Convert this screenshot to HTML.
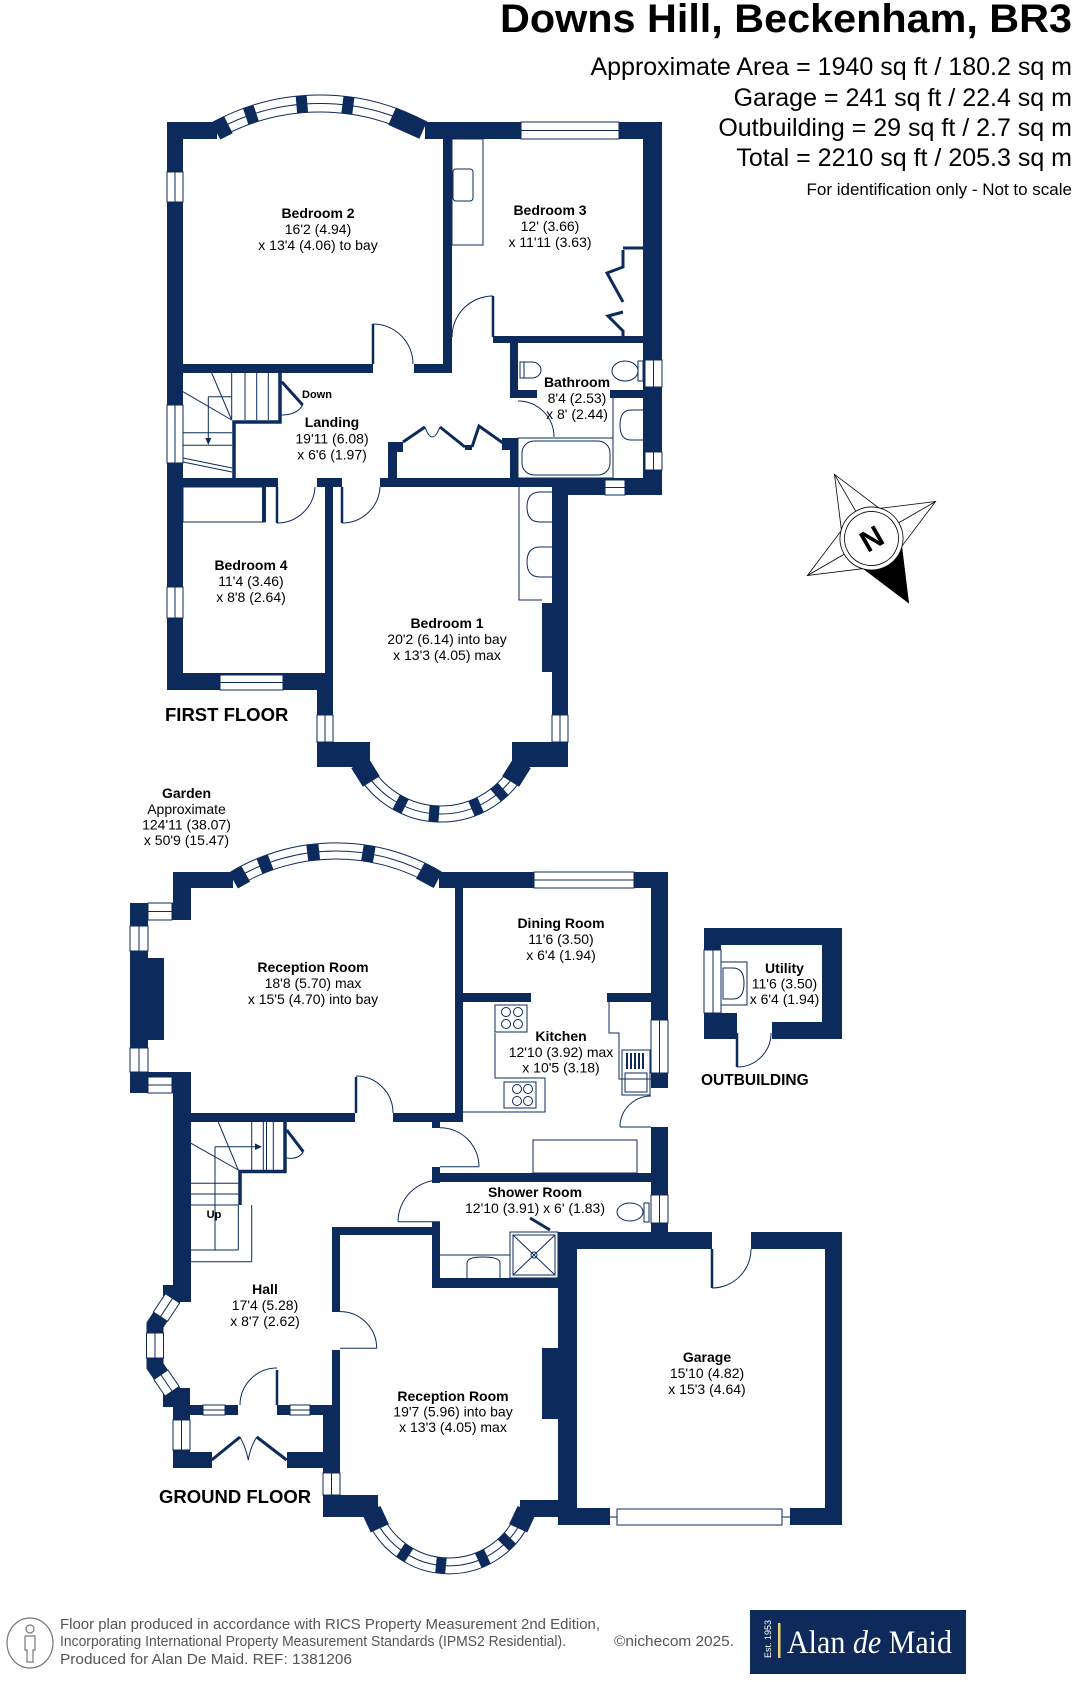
<!DOCTYPE html>
<html><head><meta charset="utf-8">
<style>
html,body{margin:0;padding:0;background:#fff;}
svg{display:block;}
.n{fill:#0c2b5c}
.w{fill:#fff;stroke:#0c2b5c;stroke-width:1}
.l{stroke:#0c2b5c;stroke-width:1;fill:none}
.k{stroke:#0c2b5c;stroke-width:3;fill:none}
text{font-family:"Liberation Sans",Arial,sans-serif;fill:#000}
.b{font-weight:bold;font-size:14px;text-anchor:middle}
.d{font-size:14px;text-anchor:middle}
.f{font-weight:bold;font-size:18.5px}
</style></head><body>
<svg width="1082" height="1681" viewBox="0 0 1082 1681" xmlns="http://www.w3.org/2000/svg">
<rect width="1082" height="1681" fill="#fff"/>

<!-- HEADER -->
<text x="1072" y="32" font-size="40" font-weight="bold" text-anchor="end" textLength="572" lengthAdjust="spacingAndGlyphs">Downs Hill, Beckenham, BR3</text>
<text x="1072" y="75" font-size="25" text-anchor="end">Approximate Area = 1940 sq ft / 180.2 sq m</text>
<text x="1072" y="106" font-size="25" text-anchor="end">Garage = 241 sq ft / 22.4 sq m</text>
<text x="1072" y="136" font-size="25" text-anchor="end">Outbuilding = 29 sq ft / 2.7 sq m</text>
<text x="1072" y="166" font-size="25" text-anchor="end">Total = 2210 sq ft / 205.3 sq m</text>
<text x="1072" y="195" font-size="17" text-anchor="end">For identification only - Not to scale</text>

<!-- ================= FIRST FLOOR ================= -->
<!-- Bay Bed2 -->
<path class="l" d="M213,122.1 A225,225 0 0 1 427,122.1 M217,129.6 A216.5,216.5 0 0 1 423,129.6 M221.1,137 A208,208 0 0 1 418.9,137"/>
<g class="n">
<rect x="314.5" y="95" width="11" height="17" transform="rotate(-18.6 320 320)"/>
<rect x="314.5" y="95" width="11" height="17" transform="rotate(-4.8 320 320)"/>
<rect x="314.5" y="95" width="11" height="17" transform="rotate(7.4 320 320)"/>
<rect x="313" y="95" width="14" height="19" transform="rotate(-27 320 320)"/>
<rect x="303" y="95" width="34" height="19" transform="rotate(24 320 320)"/>

<rect x="167" y="122" width="50" height="17"/>
<rect x="425" y="122" width="237" height="17"/>
<rect x="643" y="122" width="19" height="373"/>
<rect x="167" y="122" width="16" height="568"/>
<rect x="443" y="139" width="9" height="234"/>
<rect x="183" y="364" width="190" height="9"/>
<rect x="414" y="364" width="38" height="9"/>
<rect x="493" y="336" width="150" height="7"/>
<rect x="510" y="336" width="8" height="62"/>
<rect x="510" y="390" width="27" height="8"/>
<rect x="610" y="390" width="33" height="8"/>
<rect x="388" y="442" width="15" height="10"/>
<rect x="388" y="442" width="9" height="36"/>
<rect x="502" y="438" width="16" height="12"/>
<rect x="510" y="438" width="8" height="40"/>
<rect x="465" y="445" width="7" height="5"/>
<rect x="167" y="478" width="111" height="9"/>
<rect x="317" y="478" width="25" height="9"/>
<rect x="380" y="478" width="282" height="9"/>
<rect x="552" y="478" width="110" height="17"/>
<rect x="325" y="478" width="8" height="195"/>
<rect x="167" y="673" width="166" height="17"/>
<rect x="317" y="673" width="16" height="94"/>
<rect x="317" y="742" width="53" height="25"/>
<rect x="552" y="487" width="16" height="280"/>
<rect x="542" y="603" width="10" height="69"/>
<rect x="512" y="742" width="56" height="25"/>
<rect x="262" y="487" width="4" height="35"/>
</g>

<!-- Bay Bed1 -->
<path class="l" d="M353.6,767.1 A97,97 0 0 0 528.4,767.1 M360.8,763.6 A89,89 0 0 0 521.2,763.6 M368,760.1 A81,81 0 0 0 514,760.1"/>
<g class="n">
<rect x="436" y="806" width="10" height="16" transform="rotate(27 441 725)"/>
<rect x="436" y="806" width="10" height="16" transform="rotate(4.5 441 725)"/>
<rect x="436" y="806" width="10" height="16" transform="rotate(-23.2 441 725)"/>
<rect x="436" y="806" width="10" height="16" transform="rotate(-41 441 725)"/>
<rect x="430" y="804" width="22" height="20" transform="rotate(58 441 725)"/>
<rect x="430" y="804" width="22" height="20" transform="rotate(-58 441 725)"/>
</g>

<!-- First floor windows -->
<rect class="w" x="167" y="172" width="16" height="30"/><path class="l" d="M175,172V202"/>
<rect class="w" x="167" y="405" width="16" height="58"/><path class="l" d="M175,405V463"/>
<rect class="w" x="167" y="587" width="16" height="31"/><path class="l" d="M175,587V618"/>
<rect class="w" x="521" y="122" width="98" height="17"/><path class="l" d="M521,130.5H619"/>
<rect class="w" x="645" y="360" width="17" height="27"/><path class="l" d="M653.5,360V387"/>
<rect class="w" x="645" y="452" width="17" height="18"/><path class="l" d="M653.5,452V470"/>
<rect class="w" x="605" y="480" width="20" height="15"/><path class="l" d="M605,487.5H625"/>
<rect class="w" x="220" y="675" width="63" height="15"/><path class="l" d="M220,682.5H283"/>
<rect class="w" x="317" y="715" width="16" height="27"/><path class="l" d="M325,715V742"/>
<rect class="w" x="552" y="715" width="16" height="27"/><path class="l" d="M560,715V742"/>

<!-- First floor stairs -->
<path d="M280,373V422H234V478" stroke="#0c2b5c" stroke-width="3.5" fill="none"/>
<path class="l" d="M231.7,373V420M245,373V420M256.7,373V420M268.3,373V420M211.7,373L231.7,420M183,391.7L231.7,420M208.3,396.7H231.7M208.3,396.7V443M183,432.7H232M183,445.3H232M183,458L232,468M183,462L232,472"/>
<path d="M205.3,438L208.3,445L211.3,438Z" fill="#0c2b5c"/>
<path d="M281.7,381.7L302.7,405" class="k"/>
<path class="l" d="M281.7,415Q297,415 302.7,405"/>

<!-- First floor doors -->
<path d="M373,364V324M493,337V296M277,487V523M342,487V523" stroke="#0c2b5c" stroke-width="2.5" fill="none"/>
<path class="l" d="M373,324A40,40 0 0 1 413,364M452,337A41,41 0 0 1 493,296M518,401A36,36 0 0 1 554,437M277,523A38,38 0 0 0 315,487M342,523A38,38 0 0 0 380,487"/>

<!-- cupboard doors -->
<path class="k" d="M403,442L425,427M440,427L465,447M472,447L479,426L503,443" stroke-width="2.5"/>
<path class="l" d="M425,427Q432,447 440,427"/>

<!-- Bed3 fixtures -->
<rect class="l" x="452" y="139" width="31" height="106"/>
<rect class="l" x="453" y="169" width="20" height="32" rx="3"/>
<path class="k" d="M623,248H643M623,250V267L607,273L623,302M623,312L608,316L623,331V336"/>
<!-- Bathroom -->
<path class="l" d="M520,362H532A9,8 0 0 1 532,378H520ZM524,362V378"/>
<ellipse class="l" cx="625" cy="371" rx="13" ry="10"/>
<rect class="l" x="638" y="361" width="5" height="20"/>
<rect class="l" x="518" y="438" width="95" height="40"/>
<rect class="l" x="522" y="441" width="88" height="34" rx="12"/>
<path class="l" d="M613,398V478M643,410H631Q620,410 620,425Q620,440 631,440H643"/>
<!-- Bed1 vanity -->
<path class="l" d="M519,487V600H542"/>
<path class="l" d="M552,492H540Q527,492 527,507Q527,522 540,522H552M552,547H540Q527,547 527,562Q527,577 540,577H552"/>
<!-- Bed4 closet -->
<rect class="l" x="183" y="487" width="82" height="35" stroke-width="1.5"/>

<!-- First floor labels -->
<text class="b" x="318" y="218">Bedroom 2</text>
<text class="d" x="318" y="234">16'2 (4.94)</text>
<text class="d" x="318" y="250">x 13'4 (4.06) to bay</text>
<text class="b" x="550" y="215">Bedroom 3</text>
<text class="d" x="550" y="231">12' (3.66)</text>
<text class="d" x="550" y="247">x 11'11 (3.63)</text>
<text class="b" x="577" y="387">Bathroom</text>
<text class="d" x="577" y="403">8'4 (2.53)</text>
<text class="d" x="577" y="419">x 8' (2.44)</text>
<text x="302" y="398" font-size="11" font-weight="bold">Down</text>
<text class="b" x="332" y="427">Landing</text>
<text class="d" x="332" y="443.5">19'11 (6.08)</text>
<text class="d" x="332" y="459.5">x 6'6 (1.97)</text>
<text class="b" x="251" y="570">Bedroom 4</text>
<text class="d" x="251" y="586">11'4 (3.46)</text>
<text class="d" x="251" y="602">x 8'8 (2.64)</text>
<text class="b" x="447" y="628">Bedroom 1</text>
<text class="d" x="447" y="644">20'2 (6.14) into bay</text>
<text class="d" x="447" y="660">x 13'3 (4.05) max</text>
<text class="f" x="165" y="721">FIRST FLOOR</text>

<text class="b" x="186.5" y="798">Garden</text>
<text class="d" x="186.5" y="814">Approximate</text>
<text class="d" x="186.5" y="829.5">124'11 (38.07)</text>
<text class="d" x="186.5" y="845">x 50'9 (15.47)</text>

<!-- Compass -->
<g transform="translate(871.5,538.5) rotate(-30)" stroke="#000" stroke-width="0.8">
<polygon points="0,-74 22,-22 74,0 22,22 0,74 -22,22 -74,0 -22,-22" fill="#fff"/>
<path d="M0,-74V0M74,0H0M-74,0H0" fill="none"/>
<polygon points="0,74 22,22 -22,22" fill="#000"/>
<circle r="31.5" fill="#fff"/>
<circle r="27" fill="none"/>
<text x="0" y="10.7" font-size="30" font-weight="bold" text-anchor="middle" stroke="none" fill="#000">N</text>
</g>

<!-- ================= GROUND FLOOR ================= -->
<path class="l" d="M230.5,872 A206,206 0 0 1 441.5,872 M234.6,878.9 A198,198 0 0 1 437.4,878.9 M238.7,885.8 A190,190 0 0 1 433.3,885.8"/>
<g class="n">
<rect x="330" y="843" width="12" height="16" transform="rotate(-21 336 1049)"/>
<rect x="330" y="843" width="12" height="16" transform="rotate(-6.6 336 1049)"/>
<rect x="330" y="843" width="12" height="16" transform="rotate(9.4 336 1049)"/>
<rect x="329" y="843" width="14" height="18" transform="rotate(-29.3 336 1049)"/>
<rect x="326" y="843" width="20" height="18" transform="rotate(28.2 336 1049)"/>

<rect x="173" y="872" width="60" height="16"/>
<rect x="173" y="872" width="18" height="48"/>
<rect x="130" y="903" width="61" height="17"/>
<rect x="130" y="903" width="18" height="190"/>
<rect x="130" y="958" width="34" height="82"/>
<rect x="130" y="1072" width="61" height="21"/>
<rect x="173" y="1072" width="18" height="230"/>
<rect x="439" y="872" width="229" height="16"/>
<rect x="651" y="872" width="17" height="377"/>
<rect x="455" y="888" width="8" height="234"/>
<rect x="463" y="993" width="68" height="9"/>
<rect x="607" y="993" width="44" height="9"/>
<rect x="191" y="1113" width="164" height="9"/>
<rect x="393" y="1113" width="70" height="9"/>
<rect x="432" y="1120" width="8" height="8"/>
<rect x="432" y="1173" width="220" height="9"/>
<rect x="432" y="1167" width="8" height="16"/>
<rect x="432" y="1222" width="8" height="66"/>
<rect x="432" y="1278" width="127" height="10"/>
<rect x="332" y="1227" width="100" height="8"/>
<rect x="558" y="1232" width="154" height="17"/>
<rect x="751" y="1232" width="91" height="17"/>
<rect x="825" y="1232" width="17" height="293"/>
<rect x="558" y="1232" width="19" height="293"/>
<rect x="558" y="1508" width="52" height="17"/>
<rect x="790" y="1508" width="52" height="17"/>
<rect x="542" y="1348" width="17" height="71"/>
<rect x="520" y="1500" width="39" height="17"/>
<rect x="332" y="1227" width="8" height="85"/>
<rect x="332" y="1350" width="8" height="57"/>
<rect x="323" y="1405" width="17" height="68"/>
<rect x="323" y="1495" width="55" height="22"/>
<rect x="173" y="1388" width="17" height="80"/>
<rect x="163" y="1285" width="27" height="17"/>
<rect x="163" y="1388" width="27" height="19"/>
<rect x="173" y="1405" width="65" height="10"/>
<rect x="277" y="1405" width="55" height="10"/>
<rect x="173" y="1452" width="39" height="16"/>
<rect x="287" y="1452" width="53" height="16"/>
<!-- outbuilding -->
<rect x="704" y="928" width="138" height="17"/>
<rect x="822" y="928" width="20" height="111"/>
<rect x="772" y="1022" width="70" height="17"/>
<rect x="704" y="928" width="17" height="111"/>
<rect x="704" y="1013" width="33" height="26"/>
</g>
<!-- hall bay -->
<polyline points="178,1290 155,1325 155,1366 178,1400" stroke="#0c2b5c" stroke-width="17" fill="none" stroke-linejoin="miter"/>
<g transform="translate(166.5,1307.5) rotate(123.3)"><rect class="w" x="-11" y="-8.5" width="22" height="17"/><path class="l" d="M-11,0H11"/></g>
<rect class="w" x="146.5" y="1333" width="17" height="25"/><path class="l" d="M155,1333V1358"/>
<g transform="translate(166.5,1383) rotate(55.9)"><rect class="w" x="-10" y="-8.5" width="20" height="17"/><path class="l" d="M-10,0H10"/></g>

<!-- Reception2 bay -->
<path class="l" d="M364.4,1512.5 A89,89 0 0 0 533.6,1512.5 M372,1510 A81,81 0 0 0 526,1510 M379.6,1507.6 A73,73 0 0 0 518.4,1507.6"/>
<g class="n">
<rect x="444" y="1558" width="10" height="16" transform="rotate(33.2 449 1485)"/>
<rect x="444" y="1558" width="10" height="16" transform="rotate(5.7 449 1485)"/>
<rect x="444" y="1558" width="10" height="16" transform="rotate(-24.7 449 1485)"/>
<rect x="444" y="1558" width="10" height="16" transform="rotate(-45.6 449 1485)"/>
<rect x="439" y="1556" width="20" height="20" transform="rotate(65 449 1485)"/>
<rect x="439" y="1556" width="20" height="20" transform="rotate(-65 449 1485)"/>
</g>

<!-- Ground windows -->
<rect class="w" x="148" y="903" width="24" height="17"/><path class="l" d="M148,911.5H172"/>
<rect class="w" x="130" y="926" width="18" height="25"/><path class="l" d="M139,926V951"/>
<rect class="w" x="130" y="1048" width="18" height="24"/><path class="l" d="M139,1048V1072"/>
<rect class="w" x="148" y="1077" width="24" height="16"/><path class="l" d="M148,1085H172"/>
<rect class="w" x="534" y="872" width="100" height="16"/><path class="l" d="M534,880H634"/>
<rect class="w" x="651" y="1020" width="17" height="53"/><path class="l" d="M659.5,1020V1073"/>
<rect x="651" y="1088" width="17" height="39" fill="#fff"/>
<rect class="w" x="651" y="1195" width="17" height="28"/><path class="l" d="M659.5,1195V1223"/>
<rect class="w" x="173" y="1420" width="17" height="30"/><path class="l" d="M181.5,1420V1450"/>
<rect class="w" x="203" y="1405" width="22" height="10"/><path class="l" d="M203,1410H225"/>
<rect class="w" x="290" y="1405" width="20" height="10"/><path class="l" d="M290,1410H310"/>
<rect class="w" x="323" y="1473" width="17" height="22"/><path class="l" d="M331.5,1473V1495"/>
<rect class="w" x="704" y="950" width="17" height="63"/><path class="l" d="M713,950V1013"/>
<rect class="w" x="617" y="1509" width="165" height="16"/>
<path class="l" d="M610,1517H617M782,1517H790"/>

<!-- Ground doors -->
<path d="M356,1113V1077M277,1405V1370M712,1249V1288M737,1033V1067" stroke="#0c2b5c" stroke-width="2.5" fill="none"/>
<path class="l" d="M356,1076A37,37 0 0 1 393,1113M440,1127.7A39,39 0 0 1 479,1166.7M440,1166.7H479M620,1127H651M620,1127A31,31 0 0 1 651,1096M398,1221.7H440M398,1221.7A42,42 0 0 1 440,1180M340,1311.6A36.7,36.7 0 0 1 376.7,1348.3M340,1348.3H376.7M277,1368A37,37 0 0 0 240,1405M712,1288A39,39 0 0 0 751,1249M737,1067A34,34 0 0 0 771,1033"/>
<path class="k" d="M211.7,1460L240,1437M286.7,1460L256.7,1437" stroke-width="2.5"/>
<path class="l" d="M240,1437Q246,1448 248.3,1460M256.7,1437Q250,1448 248.3,1460"/>

<!-- Ground stairs -->
<path d="M285,1122V1171.5H240V1205" stroke="#0c2b5c" stroke-width="3.5" fill="none"/>
<path class="k" d="M286.7,1130L303.3,1151.7"/>
<path class="l" d="M286.7,1158Q298,1160 303.3,1151.7"/>
<path class="l" d="M251.7,1122V1170M263.3,1122V1170M266.5,1122V1170M273.3,1122V1170M218.3,1122L238.3,1170M191,1143.3L238.3,1170M215,1146.7H256M215,1146.7V1250M191,1183.3H238.3M191,1194H238.3M191,1205H238.3M238.3,1205V1250M251.7,1205V1261.7M191,1250H238.3M191,1261.7H251.7"/>
<path d="M255,1143.5L262,1146.7L255,1150Z" fill="#0c2b5c"/>

<!-- Kitchen fixtures -->
<rect class="l" x="495" y="1005" width="32" height="27"/>
<g class="l"><circle cx="506" cy="1012" r="4.5"/><circle cx="518" cy="1012" r="4.5"/><circle cx="506" cy="1024" r="4.5"/><circle cx="518" cy="1024" r="4.5"/></g>
<path class="l" d="M495,1033V1078H545V1112H463"/>
<rect class="l" x="504" y="1082" width="32" height="26"/>
<g class="l"><circle cx="517" cy="1089" r="4.5"/><circle cx="528" cy="1089" r="4.5"/><circle cx="517" cy="1101" r="4.5"/><circle cx="528" cy="1101" r="4.5"/></g>
<path class="l" d="M609,1002V1033H619V1079H651"/>
<rect class="l" x="622" y="1050" width="28" height="45"/>
<path d="M627,1053V1069M631,1053V1069M635,1053V1069M639,1053V1069M643,1053V1069" stroke="#0c2b5c" stroke-width="2"/>
<rect class="l" x="625" y="1073" width="22" height="19"/>
<rect class="l" x="533" y="1140" width="104" height="33"/>

<!-- Shower fixtures -->
<rect class="l" x="510" y="1232" width="48" height="46"/>
<rect class="l" x="513" y="1235" width="42" height="40"/>
<path class="l" d="M513,1235L555,1275M555,1235L513,1275"/>
<circle class="l" cx="534" cy="1255" r="3"/>
<path class="k" d="M530,1218L550,1230"/>
<path class="l" d="M440,1255H510M467,1278V1263Q467,1257 483,1257Q500,1257 500,1263V1278"/>
<ellipse class="l" cx="630" cy="1212" rx="13" ry="9"/>
<rect class="l" x="644" y="1203" width="5" height="19"/>
<!-- Utility sink -->
<rect class="l" x="721" y="962" width="26" height="43"/>
<path class="l" d="M723,968H733Q744,968 744,983Q744,999 733,999H723Z"/>

<!-- Ground labels -->
<text class="b" x="313" y="972">Reception Room</text>
<text class="d" x="313" y="988">18'8 (5.70) max</text>
<text class="d" x="313" y="1004">x 15'5 (4.70) into bay</text>
<text class="b" x="561" y="928">Dining Room</text>
<text class="d" x="561" y="944">11'6 (3.50)</text>
<text class="d" x="561" y="960">x 6'4 (1.94)</text>
<text class="b" x="561" y="1041">Kitchen</text>
<text class="d" x="561" y="1057">12'10 (3.92) max</text>
<text class="d" x="561" y="1072.5">x 10'5 (3.18)</text>
<text class="b" x="784.5" y="973">Utility</text>
<text class="d" x="784.5" y="988.5">11'6 (3.50)</text>
<text class="d" x="784.5" y="1004">x 6'4 (1.94)</text>
<text x="701" y="1085" font-size="15.5" font-weight="bold">OUTBUILDING</text>
<text class="b" x="535" y="1197">Shower Room</text>
<text class="d" x="535" y="1213">12'10 (3.91) x 6' (1.83)</text>
<text x="214" y="1218" font-size="11" font-weight="bold" text-anchor="middle">Up</text>
<text class="b" x="265" y="1294">Hall</text>
<text class="d" x="265" y="1310">17'4 (5.28)</text>
<text class="d" x="265" y="1326">x 8'7 (2.62)</text>
<text class="b" x="453" y="1401">Reception Room</text>
<text class="d" x="453" y="1416.5">19'7 (5.96) into bay</text>
<text class="d" x="453" y="1432">x 13'3 (4.05) max</text>
<text class="b" x="707" y="1362">Garage</text>
<text class="d" x="707" y="1378">15'10 (4.82)</text>
<text class="d" x="707" y="1394">x 15'3 (4.64)</text>
<text class="f" x="159" y="1503">GROUND FLOOR</text>

<!-- FOOTER -->
<ellipse cx="30" cy="1643" rx="23" ry="25" fill="none" stroke="#777" stroke-width="1.2"/>
<circle cx="30" cy="1629" r="4" fill="none" stroke="#777" stroke-width="1.2"/>
<path d="M25,1636H35V1650H33V1662H27V1650H25Z" fill="none" stroke="#777" stroke-width="1.2"/>
<text x="60" y="1629" font-size="15" fill="#555" style="fill:#555" textLength="540" lengthAdjust="spacingAndGlyphs">Floor plan produced in accordance with RICS Property Measurement 2nd Edition,</text>
<text x="60" y="1646" font-size="15" style="fill:#555" textLength="506" lengthAdjust="spacingAndGlyphs">Incorporating International Property Measurement Standards (IPMS2 Residential).</text>
<text x="614" y="1646" font-size="15" style="fill:#555" textLength="120" lengthAdjust="spacingAndGlyphs">©nichecom 2025.</text>
<text x="60" y="1664" font-size="15" style="fill:#555" textLength="292" lengthAdjust="spacingAndGlyphs">Produced for Alan De Maid.   REF: 1381206</text>

<rect x="750" y="1610" width="216" height="64" fill="#0e2a5a"/>
<rect x="778" y="1623" width="2.5" height="35" fill="#e6d27a"/>
<text transform="translate(771,1658) rotate(-90)" font-size="9" style="fill:#fff">Est. 1953</text>
<text x="787" y="1653" font-size="33" style="fill:#fff;font-family:'Liberation Serif',serif" textLength="165" lengthAdjust="spacingAndGlyphs">Alan <tspan font-style="italic">de</tspan> Maid</text>
</svg>
</body></html>
